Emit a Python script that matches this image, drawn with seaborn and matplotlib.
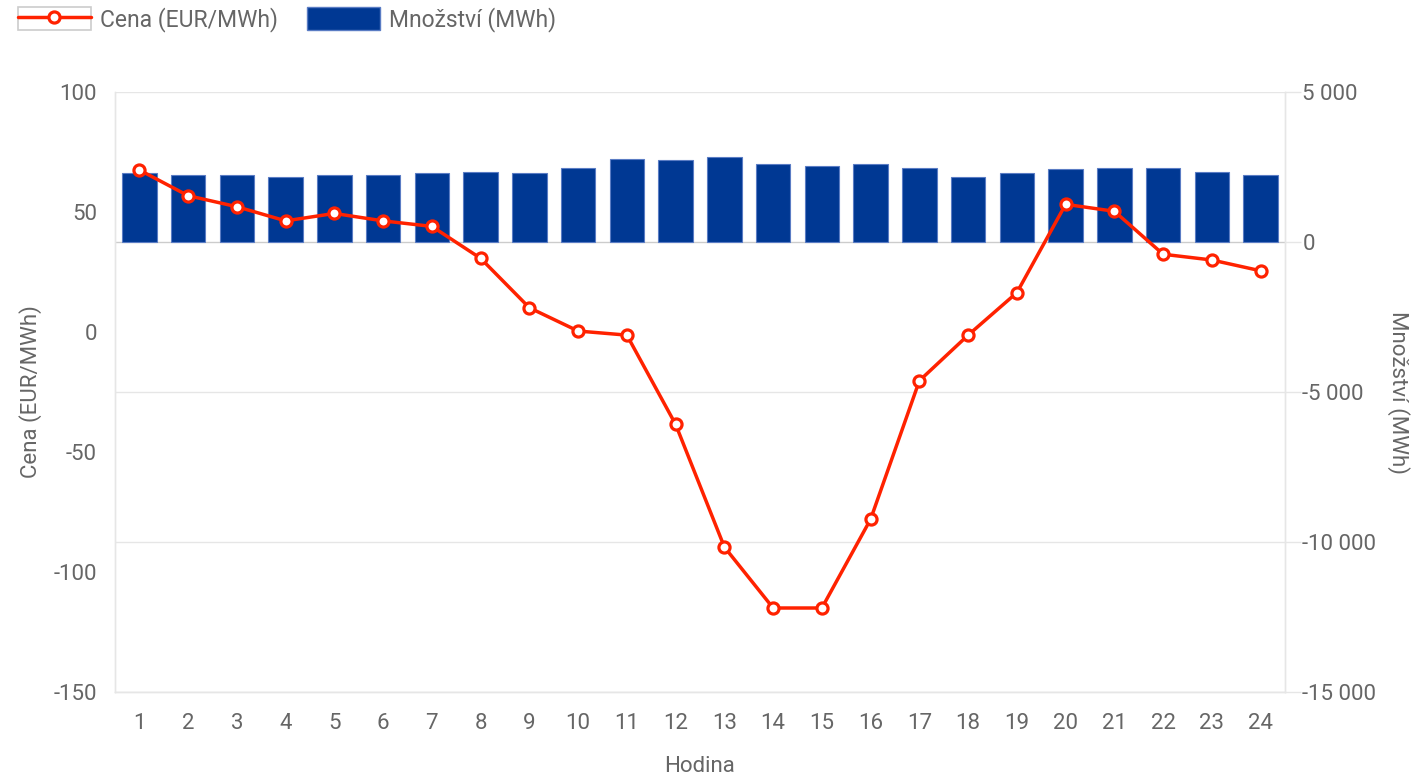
import numpy as np
import pandas as pd
import matplotlib
matplotlib.use("Agg")
import matplotlib.pyplot as plt
import seaborn as sns
from matplotlib.lines import Line2D
from matplotlib.patches import Patch
from matplotlib.legend_handler import HandlerTuple

# ---- data ----
hours = [str(h) for h in range(1, 25)]
price = [67.5, 56.8, 52.2, 46.3, 49.4, 46.3, 44.0, 30.7, 10.1, 0.4, -1.3, -38.5,
         -89.6, -115.0, -115.0, -78.0, -20.3, -1.3, 16.4, 53.2, 50.3, 32.4, 30.0, 25.5]
quantity = [2300, 2240, 2240, 2170, 2240, 2240, 2300, 2350, 2300, 2480, 2780, 2720,
            2840, 2610, 2540, 2610, 2480, 2170, 2300, 2420, 2480, 2480, 2350, 2240]
price_ticks = [-150, -100, -50, 0, 50, 100]
price_tick_labels = ["-150", "-100", "-50", "0", "50", "100"]
qty_ticks = [-15000, -10000, -5000, 0, 5000]
qty_tick_labels = ["-15 000", "-10 000", "-5 000", "0", "5 000"]

price_label = "Cena (EUR/MWh)"
qty_label = "Množství (MWh)"
x_label = "Hodina"

# ---- style ----
sns.set_theme(style="white")
plt.rcParams["font.family"] = ["Roboto", "DejaVu Sans"]
plt.rcParams["axes.unicode_minus"] = False

RED = "#ff2200"
BLUE = "#003893"
GREY_TXT = "#666666"
GRID = "#e6e6e6"
FS = 16
LEG_FS = 16.5

W, H = 1415, 776
fig = plt.figure(figsize=(W / 100, H / 100), dpi=100)
ax = fig.add_axes([115 / W, 1 - 692 / H, (1285 - 115) / W, 600 / H])
ax2 = ax.twinx()

df = pd.DataFrame({"hour": hours, "price": price, "quantity": quantity})
df["pos"] = np.arange(len(df))

# bars on the right axis
sns.barplot(data=df, x="hour", y="quantity", ax=ax2, color=BLUE, saturation=1,
            width=0.71, edgecolor="#5a7cc4", linewidth=0.8, errorbar=None)

# line on the left axis
sns.lineplot(data=df, x="pos", y="price", ax=ax, color=RED, linewidth=2.5,
             marker="o", markersize=8, markerfacecolor="white",
             markeredgecolor=RED, markeredgewidth=2.3)

ax.set_zorder(ax2.get_zorder() + 1)
ax.patch.set_visible(False)

ax.set_xlim(-0.5, len(hours) - 0.5)
ax.set_ylim(-150, 100)
ax2.set_ylim(-15000, 5000)

ax.set_xticks(df["pos"], hours)
ax.set_yticks(price_ticks, price_tick_labels)
ax2.set_yticks(qty_ticks, qty_tick_labels)

ax.tick_params(axis="x", length=0, pad=15, labelsize=FS, labelcolor=GREY_TXT)
ax.tick_params(axis="y", length=0, pad=13, labelsize=FS, labelcolor=GREY_TXT)
ax2.tick_params(axis="y", length=11.5, width=1, color=GRID, pad=1,
                labelsize=FS, labelcolor=GREY_TXT)

ax2.yaxis.grid(True, color=GRID, linewidth=1)
ax2.set_axisbelow(True)
for t, gl in zip(ax2.get_yticks(), ax2.yaxis.get_gridlines()):
    if t == 0:
        gl.set_color("#cccccc")
for t, tl in zip(ax2.get_yticks(), ax2.yaxis.get_ticklines()):
    if t == 0:
        tl.set_color("#cccccc")

for a in (ax, ax2):
    for s in a.spines.values():
        s.set_color(GRID)
        s.set_linewidth(1)
    a.spines["top"].set_visible(False)

ax.set_xlabel(x_label, fontsize=FS, color=GREY_TXT, labelpad=16)
ax.set_ylabel(price_label, fontsize=FS, color=GREY_TXT, labelpad=8)
ax2.set_ylabel(qty_label, fontsize=FS, color=GREY_TXT, rotation=270,
               va="bottom", labelpad=8)

# legend
em = LEG_FS * 100 / 72
handles = [
    (Patch(facecolor="white", edgecolor="#cccccc", linewidth=1.2),
     Line2D([], [], color=RED, lw=2.5, marker="o", markersize=8,
            markerfacecolor="white", markeredgecolor=RED, markeredgewidth=2.3)),
    Patch(facecolor=BLUE, edgecolor="#5a7cc4", linewidth=1),
]
fig.legend(handles, [price_label, qty_label],
           handler_map={tuple: HandlerTuple(ndivide=1, pad=0)},
           loc="upper left", bbox_to_anchor=(18 / W, 1 - 7 / H), ncol=2,
           frameon=False, fontsize=LEG_FS, labelcolor=GREY_TXT,
           handlelength=73 / em, handleheight=26 / em,
           handletextpad=9 / em, columnspacing=29 / em,
           borderpad=0, borderaxespad=0)

fig.savefig("out.png", dpi=100)
